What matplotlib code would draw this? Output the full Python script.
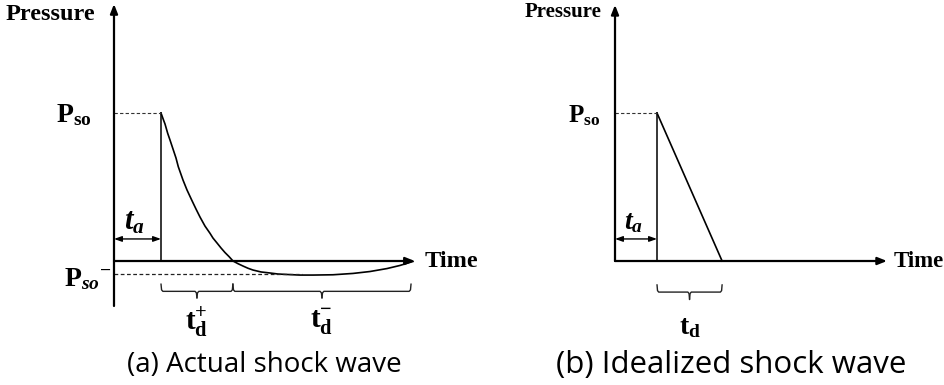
import matplotlib
matplotlib.use("Agg")
import matplotlib.pyplot as plt

# ---------------- data (schematic values, time in units of t_a, pressure in units of P_so) -------------
# (a) actual shock wave: Friedlander-like curve
A_TIME = [1.000, 1.053, 1.085, 1.143, 1.191, 1.255, 1.319, 1.368, 1.468, 1.553, 1.653,
          1.745, 1.830, 1.936, 2.043, 2.106, 2.191, 2.277, 2.362, 2.447, 2.532,
          2.638, 2.745, 2.851, 2.957, 3.128, 3.319, 3.489, 3.681, 3.957, 4.234,
          4.660, 5.085, 5.447, 5.809, 6.085, 6.362]
A_PRESSURE = [1.000, 0.953, 0.926, 0.862, 0.818, 0.757, 0.696, 0.637, 0.547, 0.480, 0.412,
              0.351, 0.297, 0.236, 0.187, 0.155, 0.122, 0.088, 0.057, 0.030, 0.000,
              -0.018, -0.034, -0.049, -0.061, -0.074, -0.081, -0.088, -0.091, -0.095, -0.095,
              -0.093, -0.084, -0.071, -0.051, -0.030, -0.003]
A_TA = 1.0            # arrival time
A_TD_POS = 1.53       # positive phase duration
A_TD_NEG = 3.79       # negative phase duration
A_PSO = 1.0
A_PSO_NEG = -0.088
A_NEG_DASH_END = 4.0
A_TIME_AXIS_END = 6.40
A_P_AXIS = [-0.304, 1.736]

# (b) idealized shock wave
B_TA = 1.0
B_TD = 1.55
B_PSO = 1.0
B_TIME_AXIS_END = 6.476
B_P_AXIS = [0.0, 1.73]

LABELS_A = {"pso": r"$\mathrm{P}_{\mathrm{so}}$", "psoneg": r"$\mathrm{P}_{so}{}^{-}$",
            "ta": r"$t_a$", "tdp": r"$\mathbf{t}_{\mathbf{d}}^{+}$", "tdn": r"$\mathbf{t}_{\mathbf{d}}^{-}$"}
LABELS_B = {"pso": r"$\mathrm{P}_{\mathrm{so}}$", "ta": r"$t_a$", "td": r"$\mathbf{t}_{\mathbf{d}}$"}
CAPTIONS = ["(a) Actual shock wave", "(b) Idealized shock wave"]

plt.rcParams["mathtext.fontset"] = "custom"
plt.rcParams["mathtext.rm"] = "Liberation Serif:bold"
plt.rcParams["mathtext.it"] = "Liberation Serif:bold:italic"
plt.rcParams["mathtext.bf"] = "Liberation Serif:bold"

SERIF = "Liberation Serif"
SANS = "Open Sans"

fig = plt.figure(figsize=(9.45, 3.85), dpi=100)
ax1 = fig.add_axes([0, 0, 0.5, 1])
ax2 = fig.add_axes([0.5, 0, 0.5, 1])
ax1.set_xlim(-2.4255, 7.6277)
ax2.set_xlim(-3.393, 7.857)
for ax in (ax1, ax2):
    ax.set_ylim(-0.8378, 1.7635)
    ax.axis("off")

AX_LW = 1.6
HEAD = "-|>,head_length=0.55,head_width=0.22"


def axis_arrow(ax, start, end):
    ax.annotate("", xy=end, xytext=start,
                arrowprops=dict(arrowstyle=HEAD, lw=AX_LW, color="black",
                                shrinkA=0, shrinkB=0))


def dbl_arrow(ax, x0, x1, y):
    ax.annotate("", xy=(x1, y), xytext=(x0, y),
                arrowprops=dict(arrowstyle="<|-|>,head_length=0.45,head_width=0.16", lw=1.0,
                                color="black", shrinkA=0, shrinkB=0))


def brace(ax, x0, x1, y_top=-0.155, y_line=-0.205, y_tip=-0.25, hook=0.04):
    xm = (x0 + x1) / 2
    ax.plot([x0, x0 + hook * 0.3, x0 + hook, xm - hook, xm - hook * 0.3, xm],
            [y_top, y_line + 0.01, y_line, y_line, y_line - 0.01, y_tip],
            color="#222222", lw=1.0, solid_capstyle="round")
    ax.plot([xm, xm + hook * 0.3, xm + hook, x1 - hook, x1 - hook * 0.3, x1],
            [y_tip, y_line - 0.01, y_line, y_line, y_line + 0.01, y_top],
            color="#222222", lw=1.0, solid_capstyle="round")


# ---------------- panel (a) ----------------
axis_arrow(ax1, (0, A_P_AXIS[0]), (0, A_P_AXIS[1]))
axis_arrow(ax1, (0, 0), (A_TIME_AXIS_END, 0))
ax1.plot([A_TA, A_TA], [0, A_PSO], color="black", lw=1.1)
ax1.plot(A_TIME, A_PRESSURE, color="black", lw=1.2)
ax1.plot([0, A_TA], [A_PSO, A_PSO], color="#333333", lw=0.8, dashes=(3, 2))
ax1.plot([0, A_NEG_DASH_END], [A_PSO_NEG, A_PSO_NEG], color="#222222", lw=0.9, dashes=(3, 2))
dbl_arrow(ax1, 0, A_TA, 0.149)
ax1.text(A_TA * 0.43, 0.27, LABELS_A["ta"], fontsize=22, ha="center", va="center")
brace(ax1, A_TA, A_TA + A_TD_POS)
brace(ax1, A_TA + A_TD_POS, A_TA + A_TD_POS + A_TD_NEG)
ax1.text(A_TA + A_TD_POS / 2, -0.41, LABELS_A["tdp"], fontsize=21, ha="center", va="center")
ax1.text(A_TA + A_TD_POS + A_TD_NEG / 2, -0.41, LABELS_A["tdn"], fontsize=21, ha="center", va="center")
ax1.text(-0.47, A_PSO - 0.01, LABELS_A["pso"], fontsize=20, ha="right", va="center")
ax1.text(-0.06, A_PSO_NEG - 0.025, LABELS_A["psoneg"], fontsize=20, ha="right", va="center")
ax1.text(-0.40, 1.628, "Pressure", family=SERIF, weight="bold", fontsize=17.5,
         ha="right", va="baseline")
ax1.text(A_TIME_AXIS_END + 0.2, 0.0, "Time", family=SERIF, weight="bold", fontsize=17.5,
         ha="left", va="center")

# ---------------- panel (b) ----------------
axis_arrow(ax2, (0, B_P_AXIS[0]), (0, B_P_AXIS[1]))
axis_arrow(ax2, (0, 0), (B_TIME_AXIS_END, 0))
ax2.plot([B_TA, B_TA], [0, B_PSO], color="black", lw=1.1)
ax2.plot([B_TA, B_TA + B_TD], [B_PSO, 0], color="black", lw=1.2)
ax2.plot([0, B_TA], [B_PSO, B_PSO], color="#333333", lw=0.8, dashes=(3, 2))
dbl_arrow(ax2, 0, B_TA, 0.149)
ax2.text(B_TA * 0.43, 0.27, LABELS_B["ta"], fontsize=20, ha="center", va="center")
brace(ax2, B_TA, B_TA + B_TD, y_top=-0.16, y_line=-0.21, y_tip=-0.26)
ax2.text(B_TA + B_TD / 2, -0.44, LABELS_B["td"], fontsize=20, ha="center", va="center")
ax2.text(-0.36, B_PSO - 0.02, LABELS_B["pso"], fontsize=18, ha="right", va="center")
ax2.text(-0.31, 1.65, "Pressure", family=SERIF, weight="bold", fontsize=15,
         ha="right", va="baseline")
ax2.text(B_TIME_AXIS_END + 0.15, 0.0, "Time", family=SERIF, weight="bold", fontsize=16.5,
         ha="left", va="center")

# ---------------- captions ----------------
fig.text(264 / 945, 1 - 365 / 385, CAPTIONS[0], family=SANS, fontsize=20, ha="center", va="center")
fig.text(731 / 945, 1 - 365 / 385, CAPTIONS[1], family=SANS, fontsize=22.5, ha="center", va="center")

fig.savefig("out.png", dpi=100)
